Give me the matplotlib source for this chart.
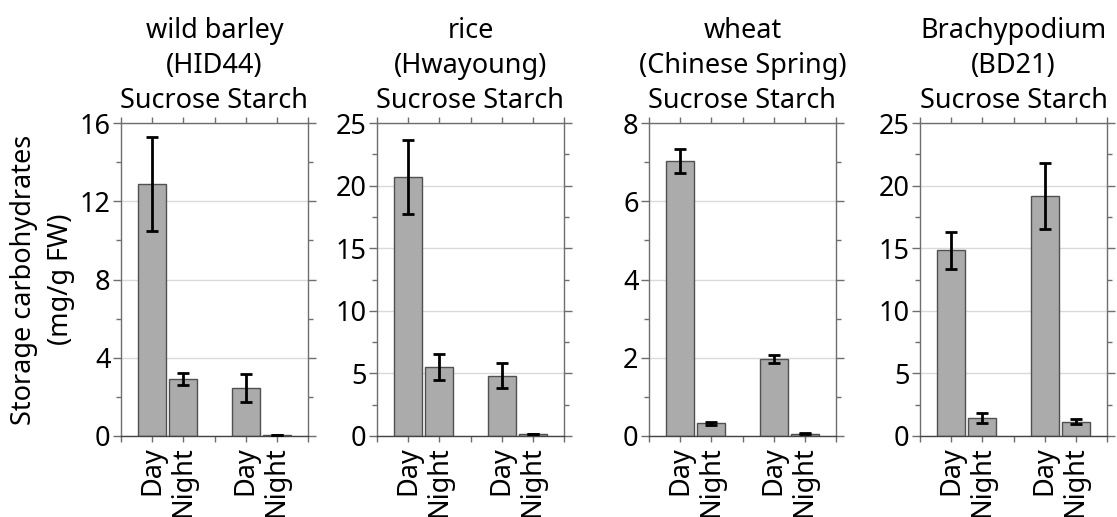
import numpy as np
import matplotlib
matplotlib.use('Agg')
import matplotlib.pyplot as plt
from matplotlib.ticker import MultipleLocator

plt.rcParams['font.family'] = ['Noto Sans', 'DejaVu Sans']

# species / cultivar titles
titles = ['wild barley\n(HID44)', 'rice\n(Hwayoung)',
          'wheat\n(Chinese Spring)', 'Brachypodium\n(BD21)']

# mean values (mg/g FW): sucrose day, sucrose night, starch day, starch night
sucrose_day = [12.9, 20.7, 7.02, 14.85]
sucrose_night = [2.9, 5.5, 0.32, 1.45]
starch_day = [2.45, 4.8, 1.97, 19.15]
starch_night = [0.05, 0.15, 0.06, 1.12]

# error bars
sucrose_day_err = [2.4, 2.95, 0.31, 1.48]
sucrose_night_err = [0.3, 1.05, 0.05, 0.38]
starch_day_err = [0.7, 1.0, 0.1, 2.65]
starch_night_err = [0.02, 0.03, 0.01, 0.2]

# y axis settings per panel
y_max = [16, 25, 8, 25]
y_major = [4, 5, 2, 5]

tick_labels = ['', 'Day', 'Night', '', 'Day', 'Night', '']
bar_pos = [1, 2, 4, 5]

fig = plt.figure(figsize=(11.17, 5.17), dpi=100)
W, H = 1117, 517
lefts = [121, 377, 649, 920]
fs = 19.5
spine_col = '#6e6e6e'

for i in range(4):
    ax = fig.add_axes([lefts[i] / W, 81 / H, 187 / W, 313 / H])
    vals = [sucrose_day[i], sucrose_night[i], starch_day[i], starch_night[i]]
    errs = [sucrose_day_err[i], sucrose_night_err[i], starch_day_err[i], starch_night_err[i]]

    ax.bar(bar_pos, vals, width=0.9, color='#ababab', edgecolor='#505050',
           linewidth=1, zorder=2)
    ax.errorbar(bar_pos, vals, yerr=errs, fmt='none', ecolor='black',
                elinewidth=2, capsize=4.5, capthick=2, zorder=3)

    ax.set_xlim(0, 6)
    ax.set_ylim(0, y_max[i])
    ax.set_xticks(range(7))
    ax.set_xticklabels(tick_labels, rotation=90, fontsize=fs)
    ax.yaxis.set_major_locator(MultipleLocator(y_major[i]))
    ax.yaxis.set_minor_locator(MultipleLocator(y_major[i] / 2))
    ax.tick_params(axis='x', which='major', direction='out', top=True,
                   bottom=True, length=4.5, width=1, color=spine_col, pad=3)
    ax.tick_params(axis='y', which='major', direction='out', left=True,
                   right=True, length=5.5, width=1, color=spine_col,
                   labelsize=fs, pad=2)
    ax.tick_params(axis='y', which='minor', direction='out', left=True,
                   right=True, length=3.5, width=1, color=spine_col)

    ax.yaxis.grid(True, color='#dadada', linewidth=1)
    ax.set_axisbelow(True)
    for s in ax.spines.values():
        s.set_color(spine_col)
        s.set_linewidth(1)
    ax.spines['bottom'].set_color('#444444')

    ax.set_title(titles[i] + '\nSucrose Starch', fontsize=fs, pad=11,
                 linespacing=1.32)

    if i == 0:
        ax.set_ylabel('Storage carbohydrates\n(mg/g FW)', fontsize=fs,
                      labelpad=3, linespacing=1.45)

fig.savefig('out.png', dpi=100)
